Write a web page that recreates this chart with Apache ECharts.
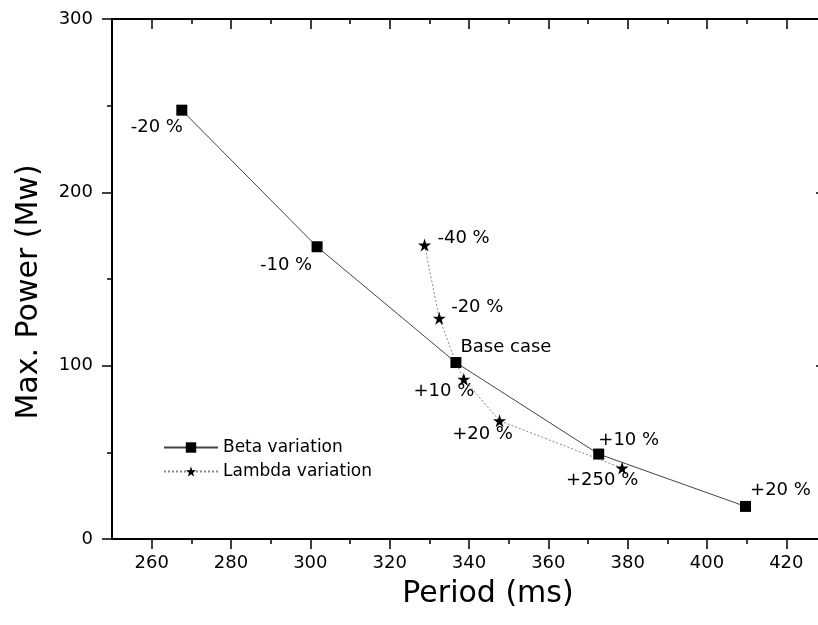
<!DOCTYPE html>
<html>
<head>
<meta charset="utf-8">
<script src="https://cdn.jsdelivr.net/npm/echarts@6/dist/echarts.min.js"></script>
<style>
  html, body { margin: 0; padding: 0; background: #fff; }
  #chart { width: 818px; height: 625px; }
</style>
</head>
<body>
<div id="chart"></div>
<script>
// values
const betaPeriod = [267.6, 301.7, 336.7, 372.7, 409.7];
const betaPower = [247.4, 168.6, 101.8, 49.0, 18.8];
const betaLabels = ['-20 %', '-10 %', 'Base case', '+10 %', '+20 %'];

const lambdaPeriod = [328.8, 332.5, 336.7, 338.7, 347.7, 378.6];
const lambdaPower = [169.6, 127.4, 101.8, 92.2, 68.2, 40.9];
const lambdaLabels = ['-40 %', '-20 %', '', '+10 %', '+20 %', '+250 %'];

const periodTicks = [260, 280, 300, 320, 340, 360, 380, 400, 420];
const periodMinorTicks = [270, 290, 310, 330, 350, 370, 390, 410];

// where each point's text sits, relative to the marker (px)
const betaLabelOffsets = [[-25, 17], [-31, 19], [50, -15], [30, -14], [35, -16]];
const lambdaLabelOffsets = [[39, -7], [38, -11], [0, 0], [-20, 12], [-17, 14], [-20, 12]];

const FONT = 'DejaVu Sans';
const STAR = 'path://M50,0 L61,35 L98,35 L68,57 L79,91 L50,70 L21,91 L32,57 L2,35 L39,35 Z';

const toPoints = (xs, ys, labels, offsets) => xs.map((x, i) => ({
    value: [x, ys[i]],
    symbol: labels[i] === '' ? 'none' : undefined,
    label: {
        show: labels[i] !== '',
        formatter: labels[i],
        position: 'inside',
        offset: offsets[i],
        fontSize: 18,
        fontFamily: FONT,
        color: '#000'
    }
}));

const tickAxis = (position, values, length, inside, showLine) => ({
    type: 'value',
    position: position,
    min: 250,
    max: 430,
    axisLine: { show: showLine, onZero: false, lineStyle: { color: '#000', width: 2 } },
    axisTick: { show: true, customValues: values, length: length, inside: inside, lineStyle: { color: '#000', width: 1.5 } },
    axisLabel: { show: false },
    splitLine: { show: false }
});

const chart = echarts.init(document.getElementById('chart'));

const xMain = tickAxis('bottom', periodTicks, 10, false, true);
xMain.axisLabel = {
    show: true, customValues: periodTicks, fontSize: 18, fontFamily: FONT, color: '#000', margin: 15
};
xMain.name = 'Period (ms)';
xMain.nameLocation = 'middle';
xMain.nameGap = 40;
xMain.nameTextStyle = { fontSize: 30, fontFamily: FONT, color: '#000', padding: [0, 0, 0, 38] };

const yAxisBase = (position, inside, showLabel) => ({
    type: 'value',
    position: position,
    min: 0,
    max: 300,
    interval: 100,
    axisLine: { show: true, onZero: false, lineStyle: { color: '#000', width: 2 } },
    axisTick: { show: true, length: 10, inside: inside, lineStyle: { color: '#000', width: 1.5 } },
    minorTick: { show: true, splitNumber: 2, length: 5, lineStyle: { color: '#000', width: 1.5 } },
    axisLabel: { show: showLabel, fontSize: 18, fontFamily: FONT, color: '#000', margin: 19 },
    splitLine: { show: false },
    minorSplitLine: { show: false }
});

const yMain = yAxisBase('left', false, true);
yMain.name = 'Max. Power (Mw)';
yMain.nameLocation = 'middle';
yMain.nameGap = 68;
yMain.nameTextStyle = { fontSize: 30, fontFamily: FONT, color: '#000', padding: [0, 26, 0, 0] };

chart.setOption({
    animation: false,
    backgroundColor: '#fff',
    grid: { left: 112, top: 19, width: 714, height: 520, outerBoundsMode: 'none', containLabel: false },
    legend: {
        orient: 'vertical',
        left: 158,
        top: 434,
        itemWidth: 54,
        itemHeight: 13,
        itemGap: 7,
        textStyle: { fontSize: 17, fontFamily: FONT, color: '#000' },
        data: ['Beta variation', 'Lambda variation']
    },
    xAxis: [
        xMain,
        tickAxis('bottom', periodMinorTicks, 5, false, false),
        tickAxis('top', periodTicks, 10, true, true),
        tickAxis('top', periodMinorTicks, 5, true, false)
    ],
    yAxis: [
        yMain,
        yAxisBase('right', true, false)
    ],
    series: [
        {
            name: 'Lambda variation',
            type: 'line',
            symbol: STAR,
            symbolSize: 13,
            itemStyle: { color: '#000' },
            lineStyle: { color: '#888', width: 1, type: [2, 2] },
            data: toPoints(lambdaPeriod, lambdaPower, lambdaLabels, lambdaLabelOffsets),
            z: 2
        },
        {
            name: 'Beta variation',
            type: 'line',
            symbol: 'rect',
            symbolSize: 11,
            itemStyle: { color: '#000' },
            lineStyle: { color: '#444', width: 1 },
            data: toPoints(betaPeriod, betaPower, betaLabels, betaLabelOffsets),
            z: 3
        }
    ]
});
</script>
</body>
</html>
